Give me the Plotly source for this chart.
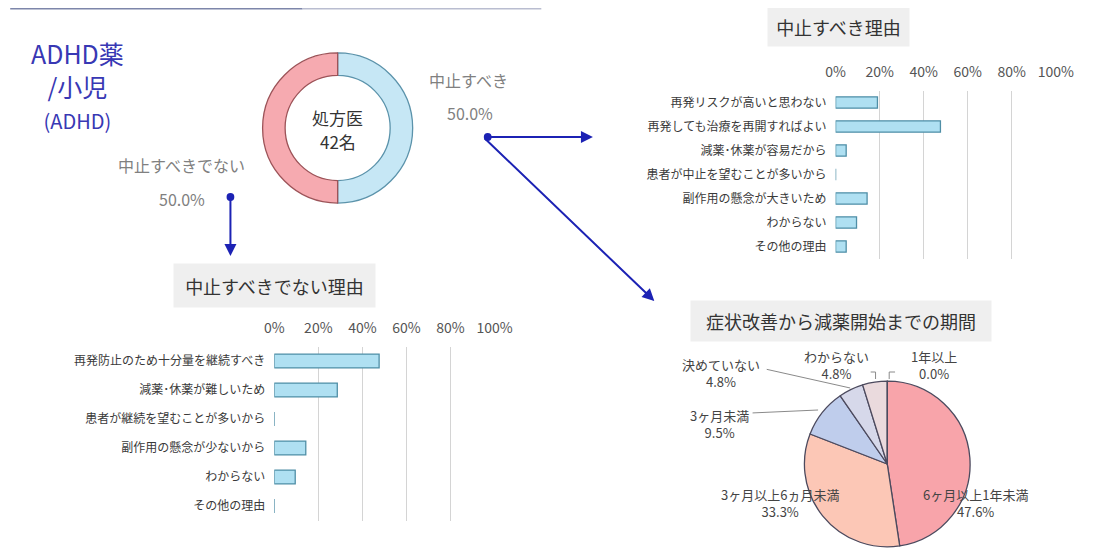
import plotly.graph_objects as go

W, H = 1098, 551
OFF = 8  # page body margin
FONT = "Noto Sans CJK JP"

# donut: 処方医 42名
donut_labels = ["中止すべき", "中止すべきでない"]
donut_vals = [50.0, 50.0]

# 中止すべき理由 (%)
stop_reasons = ["再発リスクが高いと思わない", "再発しても治療を再開すればよい", "減薬･休薬が容易だから",
                "患者が中止を望むことが多いから", "副作用の懸念が大きいため", "わからない", "その他の理由"]
stop_vals = [19.0, 47.6, 4.8, 0.0, 14.3, 9.5, 4.8]

# 中止すべきでない理由 (%)
keep_reasons = ["再発防止のため十分量を継続すべき", "減薬･休薬が難しいため", "患者が継続を望むことが多いから",
                "副作用の懸念が少ないから", "わからない", "その他の理由"]
keep_vals = [47.6, 28.6, 0.0, 14.3, 9.5, 0.0]

# 症状改善から減薬開始までの期間 (%)
period_labels = ["6ヶ月以上1年未満", "3ヶ月以上6ヵ月未満", "3ヶ月未満", "決めていない", "わからない", "1年以上"]
period_vals = [47.6, 33.3, 9.5, 4.8, 4.8, 0.0]

pct_ticks = [0, 20, 40, 60, 80, 100]
pct_ticktext = [f"{v}%" for v in pct_ticks]


def px(x):
    return (x - OFF) / W


def py(y):
    return 1 - (y - OFF) / H


fig = go.Figure()

fig.add_trace(go.Pie(
    labels=donut_labels, values=donut_vals, hole=0.7, sort=False,
    direction="clockwise", rotation=0, textinfo="none", showlegend=False,
    marker=dict(colors=["#c6e7f5", "#f6aab0"], line=dict(color=["#5b93ab", "#9c5358"], width=1.3)),
    domain=dict(x=[px(259), px(413)], y=[py(205), py(51)]),
))

fig.add_trace(go.Pie(
    labels=period_labels, values=period_vals, sort=False,
    direction="clockwise", rotation=0, textinfo="none", showlegend=False,
    marker=dict(colors=["#f8a4aa", "#fcc7b6", "#bfcdec", "#d6d8ea", "#eadadd", "#f0e0e0"],
                line=dict(color="#4c4a5e", width=1.3)),
    domain=dict(x=[px(815), px(985)], y=[py(549), py(379)]),
))

bar_marker = dict(color="#afe0f2", line=dict(color="#4f8ea6", width=1.3))

fig.add_trace(go.Bar(
    x=stop_vals, y=stop_reasons, orientation="h", width=0.47,
    marker=bar_marker, xaxis="x", yaxis="y", showlegend=False,
))
fig.add_trace(go.Bar(
    x=keep_vals, y=keep_reasons, orientation="h", width=0.48,
    marker=bar_marker, xaxis="x2", yaxis="y2", showlegend=False,
))

xaxis_common = dict(
    range=[0, 100], side="top", tickmode="array", tickvals=pct_ticks, ticktext=pct_ticktext,
    showgrid=True, gridcolor="#d4d4d4", gridwidth=1, zeroline=False,
    showline=False, ticks="", tickfont=dict(family=FONT, size=14, color="#555555"),
    ticklabelstandoff=10, fixedrange=True,
)
yaxis_common = dict(
    autorange="reversed", showgrid=False, zeroline=False, showline=False, ticks="",
    tickfont=dict(family=FONT, size=12, color="#3a3a3a"), ticklabelstandoff=8,
)

fig.update_layout(
    width=W, height=H,
    margin=dict(l=0, r=0, t=0, b=0),
    paper_bgcolor="white", plot_bgcolor="rgba(0,0,0,0)",
    font=dict(family=FONT),
    xaxis=dict(domain=[px(847), px(1073)], anchor="y", **xaxis_common),
    yaxis=dict(domain=[py(258.5), py(90.5)], anchor="x", **yaxis_common),
    xaxis2=dict(domain=[px(271), px(497)], anchor="y2", **xaxis_common),
    yaxis2=dict(domain=[py(520.5), py(346.5)], anchor="x2", **yaxis_common),
)

annotations = []


def text(x, y, s, size, color, **kw):
    annotations.append(dict(x=px(x), y=py(y), xref="paper", yref="paper", text=s,
                            showarrow=False, font=dict(family=FONT, size=size, color=color),
                            xanchor="center", yanchor="middle", **kw))


# left title
text(69, 85, "ADHD薬<br>/小児<br><span style='font-size:20px'>(ADHD)</span>", 25, "#3838b4")

# donut center and side labels
text(336, 117, "処方医", 17, "#333333")
text(336, 141, "42名", 17, "#333333")
text(470, 80, donut_labels[0], 16, "#808080")
text(472, 113, f"{donut_vals[0]:.1f}%", 16, "#808080")
text(176, 165, donut_labels[1], 16, "#808080")
text(176, 199, f"{donut_vals[1]:.1f}%", 16, "#808080")

# chart titles with grey boxes
for cx, cy, s, w, h in [(850, 27, "中止すべき理由", 139, 37),
                        (271, 285, "中止すべきでない理由", 199, 41),
                        (853, 321, "症状改善から減薬開始までの期間", 298, 38)]:
    text(cx, cy, s, 18, "#333333", bgcolor="#efefef", width=w, height=h)

# pie labels
pie_label_pos = [(991, 503), (790, 503), (728, 424), (729, 373), (848, 365), (948, 365)]
for (lx, ly), lab, v in zip(pie_label_pos, period_labels, period_vals):
    text(lx, ly, f"{lab}<br>{v:.1f}%", 13, "#444444")

# arrows
arrow_color = "#1c22b4"
for tip, tail in [((226, 256), (226, 197)), ((598, 137), (490, 137)), ((661, 301), (490, 137))]:
    annotations.append(dict(x=px(tip[0]), y=py(tip[1]), xref="paper", yref="paper",
                            ax=tail[0] - tip[0], ay=tail[1] - tip[1], text="",
                            showarrow=True, arrowhead=2, arrowsize=1.2, arrowwidth=2,
                            arrowcolor=arrow_color))

# pie leader lines
for (x0, y0), (x1, y1) in [((777, 369), (862, 388)), ((762, 413), (829, 410))]:
    annotations.append(dict(x=px(x1), y=py(y1), xref="paper", yref="paper",
                            ax=x0 - x1, ay=y0 - y1, text="", showarrow=True,
                            arrowhead=0, arrowwidth=1, arrowcolor="#8a8a8a"))

fig.update_layout(annotations=annotations)

shapes = [
    dict(type="line", xref="paper", yref="paper", x0=px(0), x1=px(300), y0=py(8), y1=py(8),
         line=dict(color="#7d86aa", width=3)),
    dict(type="line", xref="paper", yref="paper", x0=px(300), x1=px(545), y0=py(8), y1=py(8),
         line=dict(color="#b9bdd0", width=3)),
    dict(type="circle", xref="paper", yref="paper", x0=px(222), x1=px(230), y0=py(201), y1=py(193),
         fillcolor=arrow_color, line=dict(width=0)),
    dict(type="circle", xref="paper", yref="paper", x0=px(486), x1=px(494), y0=py(141), y1=py(133),
         fillcolor=arrow_color, line=dict(width=0)),
    dict(type="path", xref="paper", yref="paper",
         path=f"M {px(883)} {py(372)} L {px(888)} {py(372)} L {px(888)} {py(379)}",
         line=dict(color="#8a8a8a", width=1)),
    dict(type="path", xref="paper", yref="paper",
         path=f"M {px(908)} {py(372)} L {px(902)} {py(372)} L {px(902)} {py(379)}",
         line=dict(color="#8a8a8a", width=1)),
]
fig.update_layout(shapes=shapes)

fig.write_html("out.html")
